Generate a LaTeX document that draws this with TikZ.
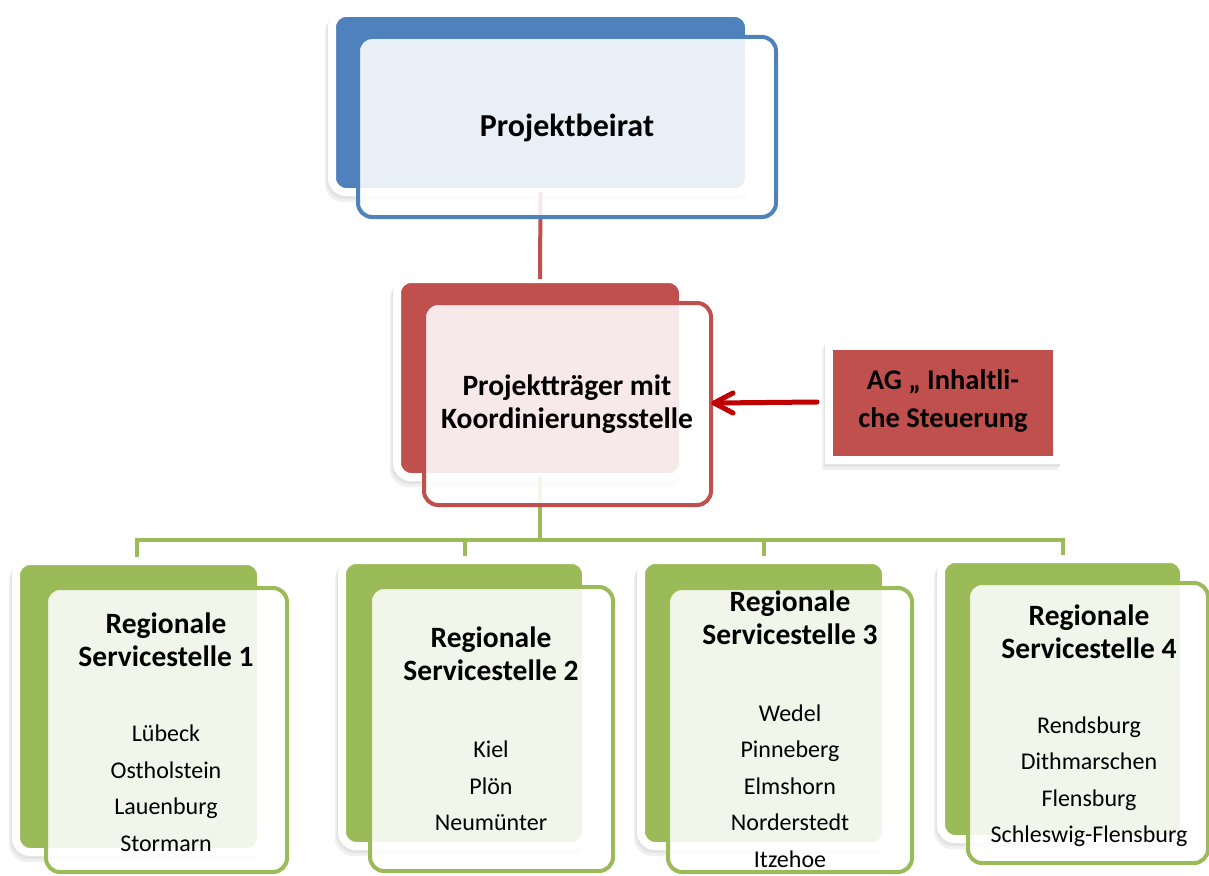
\documentclass[tikz,border=0pt]{standalone}
\usepackage{fontspec}
\setmainfont{Carlito}
\definecolor{cblue}{HTML}{4F81BD}
\definecolor{cred}{HTML}{C0504D}
\definecolor{cgreen}{HTML}{9BBB59}
\definecolor{carrow}{HTML}{C00000}
\begin{document}
\begin{tikzpicture}[x=1pt,y=-1pt,
  softshadow/.style={preaction={draw=black!6, fill=black!6, line width=8pt, transform canvas={xshift=-3pt,yshift=-6pt}},
    preaction={draw=black!11, fill=black!11, line width=8pt, transform canvas={xshift=-1.5pt,yshift=-3pt}}},
  backbox/.style={rectangle, rounded corners=14pt, softshadow, draw=white, line width=8pt,
    inner sep=0pt, outer sep=0pt},
  frontbox/.style={rectangle, rounded corners=14pt, line width=4pt, fill=white,
    fill opacity=0.88, inner sep=0pt, outer sep=0pt},
  agbox/.style={rectangle, softshadow, draw=white, line width=8pt, fill=cred, inner sep=0pt, outer sep=0pt},
  title/.style={font=\bfseries\fontsize{29.5}{33}\selectfont, align=center, inner sep=0pt},
  places/.style={font=\fontsize{24}{36.5}\selectfont, align=center, inner sep=0pt},
  redline/.style={draw=cred, line width=4pt},
  greenline/.style={draw=cgreen, line width=4pt},
  arrowline/.style={draw=carrow, line width=5pt, line cap=round, line join=round}
]
\useasboundingbox (0,0) rectangle (1209,875);
\fill[white] (0,0) rectangle (1209,875);

\coordinate (bus) at (540,540);

% upper back boxes
\node[backbox, fill=cblue, minimum width=417, minimum height=179] (pbB) at (540.5,102.5) {};
\node[backbox, fill=cred, minimum width=286, minimum height=198] (ptB) at (540,378) {};

% connectors (behind the front boxes)
\draw[redline] (pbB.south) -- (ptB.north);
\draw[greenline] (ptB.south) -- (bus);
\coordinate (c1) at (137,565);
\coordinate (c2) at (465,565);
\coordinate (c3) at (764,565);
\coordinate (c4) at (1063,565);
\draw[greenline] (c1) -- (c1 |- bus) -- (c4 |- bus) -- (c4);
\draw[greenline] (c2) -- (c2 |- bus);
\draw[greenline] (c3) -- (c3 |- bus);

% regional back boxes
\node[backbox, fill=cgreen, minimum width=245, minimum height=291] (r1B) at (138.5,706.5) {};
\node[backbox, fill=cgreen, minimum width=244, minimum height=286] (r2B) at (464,703) {};
\node[backbox, fill=cgreen, minimum width=245, minimum height=286] (r3B) at (763.5,703) {};
\node[backbox, fill=cgreen, minimum width=243, minimum height=280] (r4B) at (1062.5,699) {};

% front boxes
\node[frontbox, draw=cblue, minimum width=418, minimum height=180] (pbF) at (567,127) {};
\node[frontbox, draw=cred, minimum width=287, minimum height=202] (ptF) at (567.5,404) {};
\node[frontbox, draw=cgreen, minimum width=241, minimum height=284] (r1F) at (166.5,730) {};
\node[frontbox, draw=cgreen, minimum width=243, minimum height=284] (r2F) at (491.5,729) {};
\node[frontbox, draw=cgreen, minimum width=244, minimum height=284] (r3F) at (790,730) {};
\node[frontbox, draw=cgreen, minimum width=240, minimum height=280] (r4F) at (1088,723) {};

% AG box and arrow
\node[agbox, minimum width=228, minimum height=114] (ag) at (943,403) {};
\coordinate (tip) at ([xshift=3pt,yshift=1pt]ptF.east);
\coordinate (tail) at ([xshift=-12pt,yshift=1pt]ag.west);
\draw[arrowline] (tail) -- (tip);
\draw[arrowline] ([xshift=19pt,yshift=10pt]tip) -- (tip) -- ([xshift=19pt,yshift=-10pt]tip);

% texts
\node[title, font=\bfseries\fontsize{32}{36}\selectfont] (pbT) at (567,128) {Projektbeirat};
\node[title] (ptT) at (567,404) {Projektträger mit\\Koordinierungsstelle};
\node[title, font=\bfseries\fontsize{28.5}{38.5}\selectfont] (agT) at (943,401) {AG „ Inhaltli-\\che Steuerung};

\node[title] (r1T) at (166,640) {Regionale\\Servicestelle 1};
\node[title] (r2T) at (491,654) {Regionale\\Servicestelle 2};
\node[title] (r3T) at (790,618) {Regionale\\Servicestelle 3};
\node[title] (r4T) at (1089,632) {Regionale\\Servicestelle 4};

\node[places] (r1P) at (166,788) {Lübeck\\Ostholstein\\Lauenburg\\Stormarn};
\node[places] (r2P) at (491,786) {Kiel\\Plön\\Neumünter};
\node[places] (r3P) at (790,786) {Wedel\\Pinneberg\\Elmshorn\\Norderstedt\\Itzehoe};
\node[places] (r4P) at (1089,781.5) {Rendsburg\\Dithmarschen\\Flensburg\\Schleswig-Flensburg};
\end{tikzpicture}
\end{document}
